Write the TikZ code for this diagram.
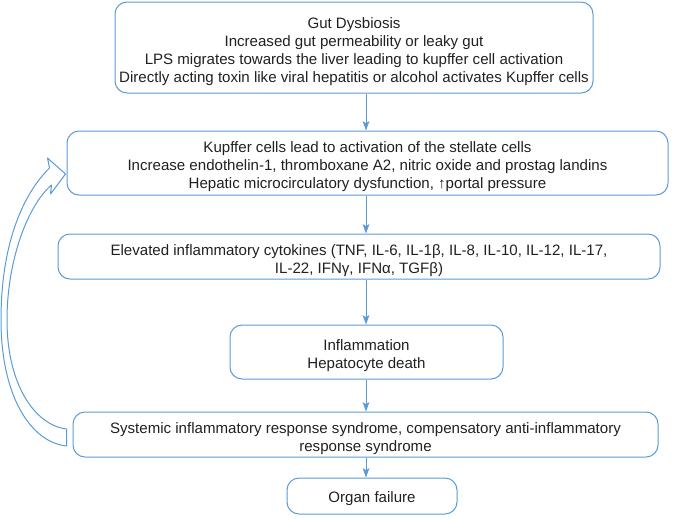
\documentclass[tikz,border=0pt]{standalone}
\usepackage{fontspec}
\setmainfont{Liberation Sans}
\usetikzlibrary{arrows.meta,calc}

\definecolor{boxblue}{RGB}{91,155,213}
\definecolor{txtgray}{RGB}{35,31,32}

% strut that sets the first line a little lower in its box
\newcommand{\lift}{\rule{0pt}{14pt}}

\tikzset{every picture/.style={line width=0.75pt}}
\tikzset{
  stage/.style={draw=boxblue, rounded corners=9pt, align=center, inner sep=0pt,
    text=txtgray, font=\fontsize{11.3}{13.6}\selectfont},
  flow/.style={draw=boxblue, -{Stealth[length=7pt,width=5pt,inset=1.5pt]}},
  loopback/.style={draw=boxblue, line join=round}
}

\begin{document}
\begin{tikzpicture}[x=0.75pt,y=0.75pt,yscale=-1,xscale=1]
\useasboundingbox (0,0) rectangle (685,519);

% column the arrows run down
\coordinate (spine) at (366,0);

% Stages
\node [stage, minimum width=478*0.75pt, minimum height=91*0.75pt] (gut) at (354,47.5)
  {\lift Gut Dysbiosis\\Increased gut permeability or leaky gut\\LPS migrates towards the liver leading to kupffer cell activation\\Directly acting toxin like viral hepatitis or alcohol activates Kupffer cells};
\node [stage, minimum width=601*0.75pt, minimum height=64*0.75pt] (kupffer) at (367.5,163)
  {\lift Kupffer cells lead to activation of the stellate cells\\Increase endothelin-1, thromboxane A2, nitric oxide and prostag landins\\Hepatic microcirculatory dysfunction, ↑portal pressure};
\node [stage, minimum width=602*0.75pt, minimum height=45*0.75pt] (cytokines) at (359,256.5)
  {\lift Elevated inflammatory cytokines (TNF, IL-6, IL-1β, IL-8, IL-10, IL-12, IL-17,\\IL-22, IFNγ, IFNα, TGFβ)};
\node [stage, minimum width=273*0.75pt, minimum height=54*0.75pt] (inflam) at (366.5,352)
  {\lift Inflammation\\Hepatocyte death};
\node [stage, minimum width=585*0.75pt, minimum height=45*0.75pt] (sirs) at (365.5,434.5)
  {\lift Systemic inflammatory response syndrome, compensatory anti-inflammatory\\response syndrome};
\node [stage, minimum width=170*0.75pt, minimum height=36*0.75pt] (organ) at (372,496)
  {\rule{0pt}{12pt}Organ failure};

% Arrows
\draw [flow] (gut.south -| spine) -- (kupffer.north -| spine);
\draw [flow] (kupffer.south -| spine) -- (cytokines.north -| spine);
\draw [flow] (cytokines.south -| spine) -- (inflam.north -| spine);
\draw [flow] (inflam.south -| spine) -- (sirs.north -| spine);
\draw [flow] (sirs.south -| spine) -- (organ.north -| spine);

%Shape: Block arrow, back from sirs to kupffer
\draw [loopback] ($(sirs.west)+(-6,11.5)$) .. controls (30,442) and (1,395) .. (1,320)
  .. controls (1,240) and (25,192) .. ($(kupffer.west)+(-17,5)$)
  -- ($(kupffer.west)+(-19,-5)$) -- ($(kupffer.west)+(-1,11)$) -- ($(kupffer.west)+(-16,31)$)
  -- ($(kupffer.west)+(-15,22)$) .. controls (28,205) and (7,260) .. (7,320)
  .. controls (7,385) and (35,425) .. ($(sirs.west)+(-6,-5.5)$) -- cycle;

\end{tikzpicture}
\end{document}
